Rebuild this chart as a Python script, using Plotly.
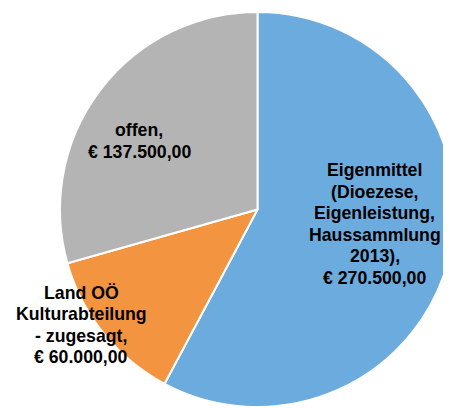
import plotly.graph_objects as go

labels = ["Eigenmittel (Dioezese, Eigenleistung, Haussammlung 2013)",
          "Land OÖ Kulturabteilung - zugesagt",
          "offen"]
values = [270500, 60000, 137500]
label_lines = [["Eigenmittel", "(Dioezese,", "Eigenleistung,", "Haussammlung", "2013),"],
               ["Land OÖ", "Kulturabteilung", "- zugesagt,"],
               ["offen,"]]
colors = ["#6cabdd", "#f39441", "#b4b4b4"]

W, H = 451, 408
OFF = 8  # page body margin offset of the plot div

# label layout (pixel positions of first line centre, line spacing) — layout, not data
label_first_px = [(374.5, 170), (81, 293), (139, 130)]
line_gap = [21.6, 21.3, 22.3]

def fmt_eur(v):
    s = f"{v:,.2f}"
    s = s.replace(",", "X").replace(".", ",").replace("X", ".")
    return "€ " + s

fig = go.Figure(go.Pie(
    labels=labels,
    values=values,
    sort=False,
    direction="clockwise",
    rotation=0,
    marker=dict(colors=colors, line=dict(color="white", width=2)),
    textinfo="none",
    hoverinfo="label+value",
    showlegend=False,
    domain=dict(x=[(60 - OFF) / W, (455 - OFF) / W],
                y=[1 - (407 - OFF) / H, 1 - (12 - OFF) / H]),
))

annotations = []
for lines, v, (px, py), gap in zip(label_lines, values, label_first_px, line_gap):
    all_lines = lines + [fmt_eur(v)]
    for i, ln in enumerate(all_lines):
        annotations.append(dict(
            x=(px - OFF) / W, y=1 - (py + i * gap - OFF) / H,
            xref="paper", yref="paper",
            text=f"<b>{ln}</b>",
            showarrow=False, align="center", xanchor="center", yanchor="middle",
            font=dict(family="Liberation Sans, Arial, sans-serif", size=17.7, color="black"),
        ))

fig.update_layout(
    width=W, height=H,
    margin=dict(l=0, r=0, t=0, b=0),
    paper_bgcolor="white",
    plot_bgcolor="white",
    annotations=annotations,
)

fig.write_html("out.html")
